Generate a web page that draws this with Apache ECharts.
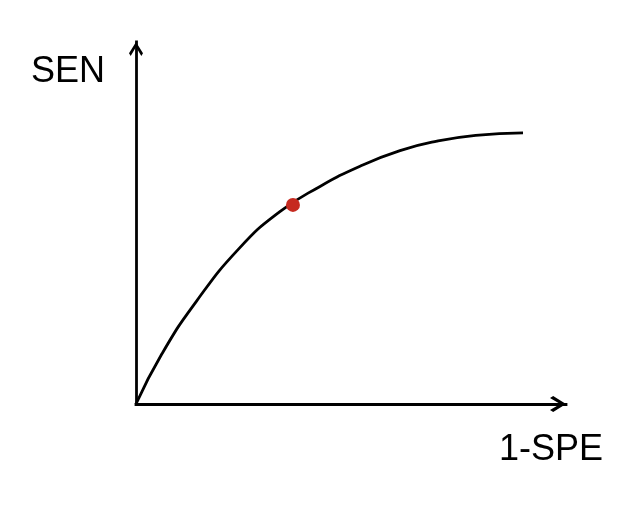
<!DOCTYPE html>
<html>
<head>
<meta charset="utf-8">
<script src="https://cdn.jsdelivr.net/npm/echarts@6/dist/echarts.min.js"></script>
<style>html,body{margin:0;padding:0;background:#fff}#c{width:625px;height:509px}</style>
</head>
<body>
<div id="c"></div>
<script>
// ROC-style curve (x = 1-SPE, y = SEN)
var curveX = [0, 0.060, 0.140, 0.240, 0.333, 0.428, 0.521, 0.614, 0.700, 0.790, 0.900];
var curveY = [0, 0.138, 0.283, 0.430, 0.530, 0.601, 0.657, 0.700, 0.726, 0.742, 0.749];
var pointX = [0.365];
var pointY = [0.550];
var xLabel = '1-SPE';
var yLabel = 'SEN';

var chevron = 'path://M0,80 L50,0 L100,80 L88,100 L50,36 L12,100 Z';

var chart = echarts.init(document.getElementById('c'));
chart.setOption({
  animation: false,
  backgroundColor: '#fff',
  grid: {left: 136, right: 59, top: 42, bottom: 105},
  xAxis: {
    type: 'value', min: 0, max: 1,
    axisLine: {show: true, symbol: ['none', chevron], symbolSize: [18, 16], symbolOffset: [0, -8],
      lineStyle: {color: '#000', width: 2.8, cap: 'square'}},
    axisTick: {show: false}, axisLabel: {show: false}, splitLine: {show: false}
  },
  yAxis: {
    type: 'value', min: 0, max: 1,
    axisLine: {show: true, symbol: ['none', chevron], symbolSize: [24, 14], symbolOffset: [0, -7],
      lineStyle: {color: '#000', width: 2.8, cap: 'square'}},
    axisTick: {show: false}, axisLabel: {show: false}, splitLine: {show: false}
  },
  graphic: [
    {type: 'text', left: 31, top: 54, style: {text: yLabel, font: '36px "Liberation Sans", Arial, sans-serif', fill: '#000'}},
    {type: 'text', left: 499, top: 432, style: {text: xLabel, font: '36px "Liberation Sans", Arial, sans-serif', fill: '#000'}}
  ],
  series: [
    {
      type: 'line', smooth: 0.5, showSymbol: false,
      data: curveX.map(function (x, i) { return [x, curveY[i]]; }),
      lineStyle: {color: '#000', width: 2.8}
    },
    {
      type: 'scatter', symbolSize: 14, z: 5,
      data: pointX.map(function (x, i) { return [x, pointY[i]]; }),
      itemStyle: {color: '#c62a20', opacity: 1}
    }
  ]
});
</script>
</body>
</html>
